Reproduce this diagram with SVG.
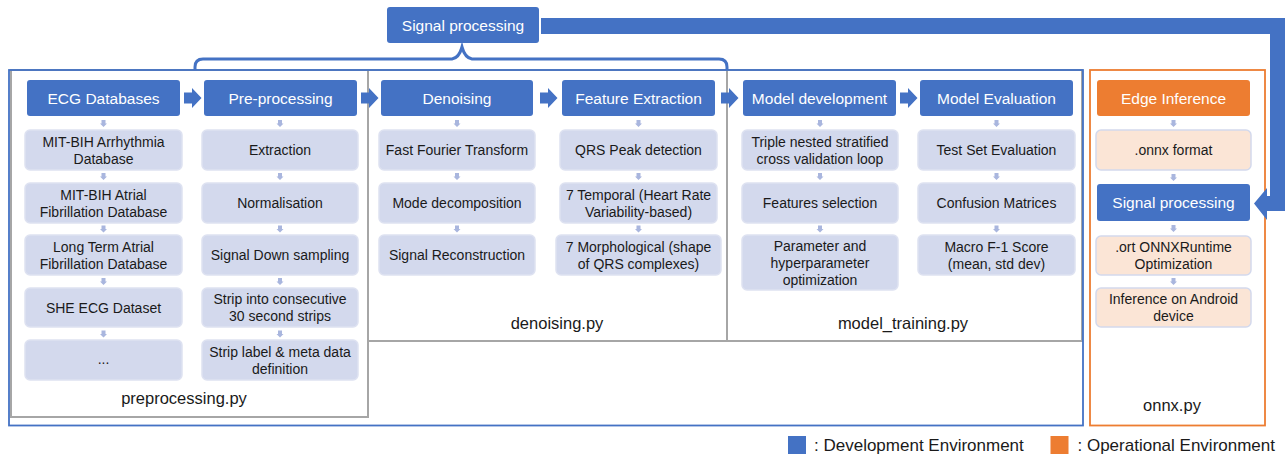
<svg xmlns="http://www.w3.org/2000/svg" xmlns:xlink="http://www.w3.org/1999/xlink" width="1285" height="456" viewBox="0 0 1285 456">
<style>
text{font-family:"Liberation Sans",Arial,sans-serif;text-anchor:middle}
.hd{fill:#4472C4}
.hdo{fill:#ED7D31}
.ht{fill:#ffffff;font-size:15.5px}
.sb{fill:#D3D9ED;stroke:#DEE2F1;stroke-width:1.5}
.sbo{fill:#FBE5D6;stroke:#D3D9ED;stroke-width:1.5}
.st{fill:#1a1a1a;font-size:14px}
.lab{fill:#1a1a1a;font-size:16.5px}
.gbox{fill:none;stroke:#A6A6A6;stroke-width:2}
.sm{fill:#A9B6DE}
.blk{fill:#4472C4}
</style>
<defs>
<path id="ba" d="M0,-5.5 H8 V-10 L17.5,0 L8,10 V5.5 H0 Z"/>
<path id="da" d="M-2,0 H2 V3.5 H3.5 L0,7 L-3.5,3.5 H-2 Z"/>
</defs>

<!-- container frames -->
<g id="frames">
<rect x="11" y="70" width="357" height="347" class="gbox"/>
<rect x="368" y="70" width="359" height="271" class="gbox"/>
<rect x="727" y="70" width="355" height="271" class="gbox"/>
<rect x="9" y="70" width="1074" height="355.5" fill="none" stroke="#4472C4" stroke-width="1.8"/>
<rect x="1090" y="70" width="175" height="355.5" fill="none" stroke="#ED7D31" stroke-width="1.8"/>
</g>

<g id="labels">
<text class="lab" x="184" y="404">preprocessing.py</text>
<text class="lab" x="557" y="329">denoising.py</text>
<text class="lab" x="903" y="329">model_training.py</text>
<text class="lab" x="1172" y="411">onnx.py</text>
</g>

<!-- connectors -->
<g id="connectors">
<path d="M195,70 V67 Q195,59 203,59 H452 Q459,58 462,47 Q465,58 472,59 H719 Q727,59 727,67 V70" fill="none" stroke="#4472C4" stroke-width="3"/>
<path class="blk" d="M541,18 H1285 V211 H1267 V220 L1254,203.5 L1267,188 V196 H1270 V34 H541 Z"/>
<use xlink:href="#ba" href="#ba" class="blk" x="184" y="98"/>
<use xlink:href="#ba" href="#ba" class="blk" x="361" y="98"/>
<use xlink:href="#ba" href="#ba" class="blk" x="540" y="98"/>
<use xlink:href="#ba" href="#ba" class="blk" x="721" y="98"/>
<use xlink:href="#ba" href="#ba" class="blk" x="900" y="98"/>
<g class="sm">
<use href="#da" x="103.5" y="120"/><use href="#da" x="103.5" y="173"/><use href="#da" x="103.5" y="225.5"/><use href="#da" x="103.5" y="278"/><use href="#da" x="103.5" y="330.5"/>
<use href="#da" x="280" y="120"/><use href="#da" x="280" y="173"/><use href="#da" x="280" y="225.5"/><use href="#da" x="280" y="278"/><use href="#da" x="280" y="330.5"/>
<use href="#da" x="457" y="120"/><use href="#da" x="457" y="173"/><use href="#da" x="457" y="225.5"/>
<use href="#da" x="638.5" y="120"/><use href="#da" x="638.5" y="173"/><use href="#da" x="638.5" y="225.5"/>
<use href="#da" x="820" y="120"/><use href="#da" x="820" y="173"/><use href="#da" x="820" y="225.5"/>
<use href="#da" x="996.5" y="120"/><use href="#da" x="996.5" y="173"/><use href="#da" x="996.5" y="225.5"/>
<use href="#da" x="1173.5" y="120"/><use href="#da" x="1173.5" y="174"/><use href="#da" x="1173.5" y="225"/><use href="#da" x="1173.5" y="278"/>
</g>
</g>

<g id="signal-processing-top">
<rect class="hd" x="387" y="7" width="152" height="36" rx="3"/>
<text class="ht" x="463" y="30.5">Signal processing</text>
</g>

<!-- headers -->
<g id="ecg-databases"><rect class="hd" x="27" y="80" width="153" height="36" rx="3"/><text class="ht" x="103.5" y="103.5">ECG Databases</text></g>
<g id="pre-processing"><rect class="hd" x="204" y="80" width="153" height="36" rx="3"/><text class="ht" x="280.5" y="103.5">Pre-processing</text></g>
<g id="denoising"><rect class="hd" x="381" y="80" width="152" height="36" rx="3"/><text class="ht" x="457" y="103.5">Denoising</text></g>
<g id="feature-extraction"><rect class="hd" x="562" y="80" width="153" height="36" rx="3"/><text class="ht" x="638.5" y="103.5">Feature Extraction</text></g>
<g id="model-development"><rect class="hd" x="743" y="80" width="153" height="36" rx="3"/><text class="ht" x="819.5" y="103.5">Model development</text></g>
<g id="model-evaluation"><rect class="hd" x="920" y="80" width="153" height="36" rx="3"/><text class="ht" x="996.5" y="103.5">Model Evaluation</text></g>
<g id="edge-inference"><rect class="hdo" x="1097" y="80" width="153" height="36" rx="3"/><text class="ht" x="1173.5" y="103.5">Edge Inference</text></g>

<!-- ECG column -->
<g id="mitbih-arr"><rect class="sb" x="25" y="130" width="157" height="40" rx="5"/><text class="st" x="103.5" y="146.5">MIT-BIH Arrhythmia</text><text class="st" x="103.5" y="163.5">Database</text></g>
<g id="mitbih-af"><rect class="sb" x="25" y="183" width="157" height="40" rx="5"/><text class="st" x="103.5" y="199.5">MIT-BIH Atrial</text><text class="st" x="103.5" y="216.5">Fibrillation Database</text></g>
<g id="ltaf"><rect class="sb" x="25" y="235" width="157" height="40" rx="5"/><text class="st" x="103.5" y="251.5">Long Term Atrial</text><text class="st" x="103.5" y="268.5">Fibrillation Database</text></g>
<g id="she"><rect class="sb" x="25" y="288" width="157" height="39" rx="5"/><text class="st" x="103.5" y="312.5">SHE ECG Dataset</text></g>
<g id="more"><rect class="sb" x="25" y="340" width="157" height="40" rx="5"/><text class="st" x="103.5" y="364">...</text></g>

<!-- Pre-processing column -->
<g id="extraction"><rect class="sb" x="202" y="130" width="156" height="40" rx="5"/><text class="st" x="280" y="155">Extraction</text></g>
<g id="normalisation"><rect class="sb" x="202" y="183" width="156" height="40" rx="5"/><text class="st" x="280" y="208">Normalisation</text></g>
<g id="downsampling"><rect class="sb" x="202" y="235" width="156" height="40" rx="5"/><text class="st" x="280" y="260">Signal Down sampling</text></g>
<g id="strip"><rect class="sb" x="202" y="288" width="156" height="39" rx="5"/><text class="st" x="280" y="304">Strip into consecutive</text><text class="st" x="280" y="321">30 second strips</text></g>
<g id="strip-label"><rect class="sb" x="202" y="340" width="156" height="40" rx="5"/><text class="st" x="280" y="356.5">Strip label &amp; meta data</text><text class="st" x="280" y="373.5">definition</text></g>

<!-- Denoising column -->
<g id="fft"><rect class="sb" x="379" y="130" width="156" height="40" rx="5"/><text class="st" x="457" y="155">Fast Fourier Transform</text></g>
<g id="mode-decomp"><rect class="sb" x="379" y="183" width="156" height="40" rx="5"/><text class="st" x="457" y="208">Mode decomposition</text></g>
<g id="reconstruction"><rect class="sb" x="379" y="235" width="156" height="40" rx="5"/><text class="st" x="457" y="260">Signal Reconstruction</text></g>

<!-- Feature column -->
<g id="qrs"><rect class="sb" x="560" y="130" width="157" height="40" rx="5"/><text class="st" x="638.5" y="155">QRS Peak detection</text></g>
<g id="temporal"><rect class="sb" x="560" y="183" width="157" height="40" rx="5"/><text class="st" x="638.5" y="199.5">7 Temporal (Heart Rate</text><text class="st" x="638.5" y="216.5">Variability-based)</text></g>
<g id="morph"><rect class="sb" x="556" y="235" width="165" height="40" rx="5"/><text class="st" x="638.5" y="251.5">7 Morphological (shape</text><text class="st" x="638.5" y="268.5">of QRS complexes)</text></g>

<!-- Model development column -->
<g id="triple"><rect class="sb" x="742" y="130" width="156" height="40" rx="5"/><text class="st" x="820" y="146.5">Triple nested stratified</text><text class="st" x="820" y="163.5">cross validation loop</text></g>
<g id="features-sel"><rect class="sb" x="742" y="183" width="156" height="40" rx="5"/><text class="st" x="820" y="208">Features selection</text></g>
<g id="param"><rect class="sb" x="742" y="235" width="156" height="55" rx="5"/><text class="st" x="820" y="250.5">Parameter and</text><text class="st" x="820" y="267.5">hyperparameter</text><text class="st" x="820" y="284.5">optimization</text></g>

<!-- Model evaluation column -->
<g id="testset"><rect class="sb" x="918" y="130" width="157" height="40" rx="5"/><text class="st" x="996.5" y="155">Test Set Evaluation</text></g>
<g id="confusion"><rect class="sb" x="918" y="183" width="157" height="40" rx="5"/><text class="st" x="996.5" y="208">Confusion Matrices</text></g>
<g id="macro"><rect class="sb" x="918" y="235" width="157" height="40" rx="5"/><text class="st" x="996.5" y="251.5">Macro F-1 Score</text><text class="st" x="996.5" y="268.5">(mean, std dev)</text></g>

<!-- Onnx column -->
<g id="onnx-format"><rect class="sbo" x="1096" y="130" width="155" height="40" rx="5"/><text class="st" x="1173.5" y="155">.onnx format</text></g>
<g id="signal-processing-edge"><rect class="hd" x="1097" y="184" width="153" height="37" rx="3"/><text class="ht" x="1173.5" y="208">Signal processing</text></g>
<g id="ort"><rect class="sbo" x="1096" y="236" width="155" height="39" rx="5"/><text class="st" x="1173.5" y="251.5">.ort ONNXRuntime</text><text class="st" x="1173.5" y="268.5">Optimization</text></g>
<g id="android"><rect class="sbo" x="1096" y="288" width="155" height="39" rx="5"/><text class="st" x="1173.5" y="304">Inference on Android</text><text class="st" x="1173.5" y="321">device</text></g>

<!-- legend -->
<g id="legend">
<rect x="788" y="436" width="18" height="18" fill="#4472C4"/>
<text x="814" y="451" style="text-anchor:start;font-size:17px;fill:#1a1a1a">: Development Environment</text>
<rect x="1050.5" y="436" width="18" height="18" fill="#ED7D31"/>
<text x="1077.5" y="451" style="text-anchor:start;font-size:17px;fill:#1a1a1a">: Operational Environment</text>
</g>
</svg>
